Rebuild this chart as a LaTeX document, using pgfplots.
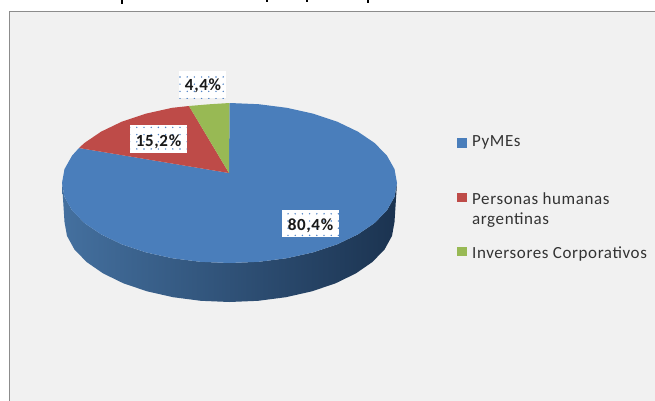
\documentclass[border=0pt]{standalone}
\usepackage{fontspec}
\setmainfont{Carlito}
\newfontfamily\legfont[LetterSpace=3.5]{Carlito}
\newfontfamily\labfont[LetterSpace=4]{Carlito}
\usepackage{pgfplots}
\pgfplotsset{compat=1.18}
\usetikzlibrary{patterns.meta}
\definecolor{pblue}{HTML}{4A7EBB}
\definecolor{pred}{HTML}{BE4B48}
\definecolor{pgreen}{HTML}{98B954}
\definecolor{panel}{HTML}{F1F1F1}
\definecolor{frameg}{HTML}{8C8C8C}
\definecolor{sideL}{HTML}{44709F}
\definecolor{sideM}{HTML}{2A4A70}
\definecolor{sideR}{HTML}{1B3350}
\definecolor{dotb}{HTML}{4F82C4}
\begin{document}
\begin{tikzpicture}
\begin{axis}[
  width=655bp,height=401bp,scale only axis,
  xmin=0,xmax=655,ymin=0,ymax=401,y dir=reverse,
  hide axis,clip=true,
  legend style={draw=none},
]
% panel
\addplot[fill=white,draw=none] coordinates {(0,0)(655,0)(655,401)(0,401)} --cycle;
\addplot[fill=panel,draw=none] coordinates {(9,11.5)(655,11.5)(655,401)(9,401)} --cycle;
\addplot[draw=frameg,line width=1.3bp] coordinates {(9.5,401)(9.5,11.5)(655,11.5)};
% clipped title descenders
\addplot[black,line width=2.4bp] coordinates {(122,0)(122,4)};
\addplot[black,line width=2.2bp] coordinates {(267,0)(267,1.6)};
\addplot[black,line width=2.2bp] coordinates {(307,0)(307,2)};
\addplot[black,line width=2.4bp] coordinates {(368,0)(368,3)};
% side wall of the blue slice
\addplot[draw=none,left color=sideL,middle color=sideM,right color=sideR] coordinates {
(397,183)(394.5,196.9)(386.9,210.4)(374.6,223)(357.8,234.4)(337.2,244.3)(313.3,252.3)(286.8,258.2)(258.6,261.8)(229.5,263)
(200.4,261.8)(172.2,258.2)(145.7,252.3)(121.8,244.3)(101.2,234.4)(84.4,223)(72.1,210.4)(64.5,196.9)(62,183)
(64.5,222)(67,235.9)(74.4,249.4)(86.6,262)(103.1,273.4)(123.4,283.3)(147,291.3)(173.1,297.2)(200.8,300.8)(229.5,302)
(258.2,300.8)(285.9,297.2)(312,291.3)(335.6,283.3)(355.9,273.4)(372.4,262)(384.6,249.4)(392,235.9)(394.5,222)} --cycle;
% top: PyMEs 80,4 %
\addplot[fill=pblue,draw=none] coordinates {
(229,173)(229.5,103)(258.6,104.2)(286.8,107.8)(313.3,113.7)(337.2,121.7)(357.8,131.6)(374.6,143)(386.9,155.6)(394.5,169.1)(397,183)
(394.5,196.9)(386.9,210.4)(374.6,223)(357.8,234.4)(337.2,244.3)(313.3,252.3)(286.8,258.2)(258.6,261.8)(229.5,263)
(200.4,261.8)(172.2,258.2)(145.7,252.3)(121.8,244.3)(101.2,234.4)(84.4,223)(72.1,210.4)(64.5,196.9)(62,183)(64.5,169.1)(72.1,155.6)(79,148)} --cycle;
% top: Personas humanas argentinas 15,2 %
\addplot[fill=pred,draw=none] coordinates {
(229,173)(79,148)(84.4,143)(101.2,131.6)(121.8,121.7)(145.7,113.7)(172.2,107.8)(189,106)} --cycle;
% top: Inversores Corporativos 4,4 %
\addplot[fill=pgreen,draw=none] coordinates {
(229,173)(189,106)(209,104.3)(229.5,103)} --cycle;
% data labels
\addplot[fill=white,draw=none] coordinates {(179,71)(226,71)(226,98)(179,98)} --cycle;
\addplot[draw=none,pattern={Dots[distance=7.2bp,radius=.8bp]},pattern color=dotb] coordinates {(179,71)(226,71)(226,98)(179,98)} --cycle;
\addplot[fill=white,draw=none] coordinates {(130,125)(187,125)(187,153)(130,153)} --cycle;
\addplot[draw=none,pattern={Dots[distance=7.2bp,radius=.8bp]},pattern color=dotb] coordinates {(130,125)(187,125)(187,153)(130,153)} --cycle;
\addplot[fill=white,draw=none] coordinates {(282,210)(339,210)(339,237)(282,237)} --cycle;
\addplot[draw=none,pattern={Dots[distance=7.2bp,radius=.8bp]},pattern color=dotb] coordinates {(282,210)(339,210)(339,237)(282,237)} --cycle;
\node[font=\fontsize{17bp}{19bp}\labfont\bfseries,text=black!90] at (axis cs:203,85.8) {4,4\%};
\node[font=\fontsize{17bp}{19bp}\labfont\bfseries,text=black!90] at (axis cs:158.5,141.8) {15,2\%};
\node[font=\fontsize{17bp}{19bp}\labfont\bfseries,text=black!90] at (axis cs:310.5,225.8) {80,4\%};
% legend keys
\addplot[fill=pblue,draw=none] coordinates {(457,138)(467,138)(467,147.5)(457,147.5)} --cycle;
\addplot[fill=pred,draw=none] coordinates {(457,193)(467,193)(467,202)(457,202)} --cycle;
\addplot[fill=pgreen,draw=none] coordinates {(457,247)(467,247)(467,256)(457,256)} --cycle;
% legend texts
\node[anchor=west,inner sep=0pt,font=\fontsize{17bp}{19bp}\legfont,text=black!80] at (axis cs:472,142.5) {PyMEs};
\node[anchor=west,inner sep=0pt,font=\fontsize{17bp}{19bp}\legfont,text=black!80] at (axis cs:472,198.5) {Personas humanas};
\node[anchor=west,inner sep=0pt,font=\fontsize{17bp}{19bp}\legfont,text=black!80] at (axis cs:472,220.5) {argentinas};
\node[anchor=west,inner sep=0pt,font=\fontsize{17bp}{19bp}\legfont,text=black!80] at (axis cs:472,253.5) {Inversores Corporativos};
\end{axis}
\end{tikzpicture}
\end{document}
